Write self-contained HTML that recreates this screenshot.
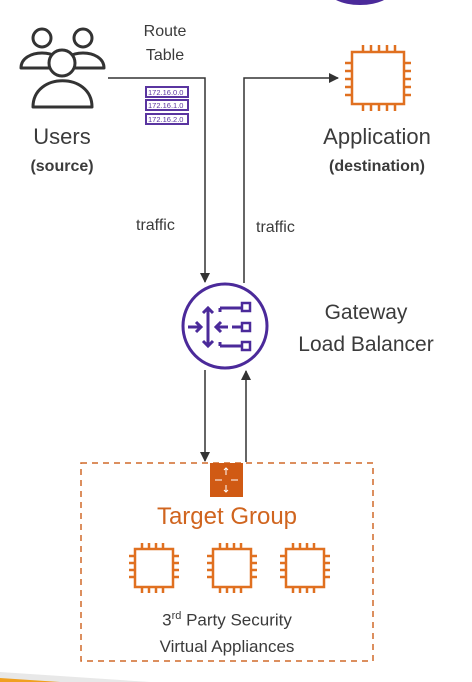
<!DOCTYPE html>
<html><head><style>
body{margin:0;width:472px;height:682px;background:#fff;overflow:hidden;position:relative;font-family:"Liberation Sans",sans-serif;color:#3b3b3b}
.t{position:absolute;white-space:nowrap;text-align:center}
</style></head><body>
<svg width="472" height="682" style="position:absolute;left:0;top:0">
<defs><marker id="a" markerWidth="10" markerHeight="10" refX="9" refY="5" orient="auto" markerUnits="userSpaceOnUse"><path d="M0,0 L10,5 L0,10 z" fill="#333"/></marker></defs>
<ellipse cx="360" cy="-12" rx="34" ry="17" fill="#4b2a9a"/>
<!-- users -->
<g fill="#fff" stroke="#333" stroke-width="3" stroke-linejoin="round">
<circle cx="42" cy="38" r="9"/><path d="M21,68 C21,48 63,48 63,68 Z"/>
<circle cx="83" cy="38" r="9"/><path d="M62,68 C62,48 104,48 104,68 Z"/>
<circle cx="62" cy="63" r="13"/><path d="M33,107 C33,72 92,72 92,107 Z"/>
</g>
<!-- route table -->
<g fill="#fff" stroke="#5a35a0" stroke-width="2">
<rect x="146" y="87" width="42" height="10"/><rect x="146" y="100" width="42" height="10"/><rect x="146" y="114" width="42" height="10"/>
</g>
<g font-size="7.5" fill="#5a35a0" font-family="Liberation Sans">
<text x="148" y="95">172.16.0.0</text><text x="148" y="108">172.16.1.0</text><text x="148" y="122">172.16.2.0</text>
</g>
<!-- connectors -->
<g stroke="#333" stroke-width="1.5" fill="none">
<path d="M108,78 H205 V282" marker-end="url(#a)"/>
<path d="M244,283 V78 H338" marker-end="url(#a)"/>
<path d="M205,370 V461" marker-end="url(#a)"/>
<path d="M246,462 V371" marker-end="url(#a)"/>
</g>
<!-- app chip -->
<g stroke="#e07020" stroke-width="2.5" fill="none">
<rect x="352" y="52" width="52" height="52"/>
<path d="M363,45v7M371,45v7M379,45v7M387,45v7M395,45v7M363,104v7M371,104v7M379,104v7M387,104v7M395,104v7M345,63h7M345,71h7M345,79h7M345,87h7M345,95h7M404,63h7M404,71h7M404,79h7M404,87h7M404,95h7"/>
</g>
<!-- GWLB -->
<circle cx="225" cy="326" r="42" fill="#fff" stroke="#4b2a9a" stroke-width="3"/>
<g stroke="#4b2a9a" stroke-width="3" fill="none">
<path d="M188,327h12M196,322l5,5-5,5"/>
<path d="M208,308v38M203,313l5,-5 5,5M203,341l5,5 5,-5"/>
<path d="M216,327h12M221,322l-5,5 5,5M232,327h10"/>
<path d="M220,308h22M220,308v4M220,346h22M220,346v-4"/>
<rect x="242" y="303" width="8" height="8" stroke-width="2.5"/><rect x="242" y="323" width="8" height="8" stroke-width="2.5"/><rect x="242" y="342" width="8" height="8" stroke-width="2.5"/>
</g>
<!-- target group -->
<rect x="81" y="463" width="292" height="198" fill="none" stroke="#d06a2a" stroke-width="1.5" stroke-dasharray="6,5"/>
<rect x="210" y="463" width="33" height="34" fill="#d05a14"/>
<g stroke="#fff" stroke-width="1" fill="none"><path d="M226,468v7M226,485v7M215,480h7M231,480h7M224,470l2,-2 2,2M224,490l2,2 2,-2"/></g>
<g stroke="#e07020" stroke-width="2.5" fill="none">
<rect x="135" y="549" width="38" height="38"/><rect x="213" y="549" width="38" height="38"/><rect x="286" y="549" width="38" height="38"/>
<path d="M142,543v6M149,543v6M156,543v6M163,543v6M142,587v6M149,587v6M156,587v6M163,587v6M129,556h6M129,563h6M129,570h6M129,577h6M173,556h6M173,563h6M173,570h6M173,577h6"/>
<path d="M220,543v6M227,543v6M234,543v6M241,543v6M220,587v6M227,587v6M234,587v6M241,587v6M207,556h6M207,563h6M207,570h6M207,577h6M251,556h6M251,563h6M251,570h6M251,577h6"/>
<path d="M293,543v6M300,543v6M307,543v6M314,543v6M293,587v6M300,587v6M307,587v6M314,587v6M280,556h6M280,563h6M280,570h6M280,577h6M324,556h6M324,563h6M324,570h6M324,577h6"/>
</g>
<path d="M0,672 L150,682 L0,682Z" fill="#e8e8e8"/>
<path d="M0,678 L60,682 L0,682Z" fill="#f0a020"/>
</svg>
<div class="t" style="left:125px;top:20px;width:80px;font-size:16px;line-height:24px">Route<br>Table</div>
<div class="t" style="left:12px;top:124px;width:100px;font-size:22px">Users</div>
<div class="t" style="left:12px;top:158px;width:100px;font-size:16px;font-weight:bold">(source)</div>
<div class="t" style="left:297px;top:124px;width:160px;font-size:22px">Application</div>
<div class="t" style="left:297px;top:158px;width:160px;font-size:16px;font-weight:bold">(destination)</div>
<div class="t" style="left:136px;top:217px;font-size:16px">traffic</div>
<div class="t" style="left:256px;top:219px;font-size:16px">traffic</div>
<div class="t" style="left:276px;top:297px;width:180px;font-size:21px;line-height:32px">Gateway<br>Load Balancer</div>
<div class="t" style="left:81px;top:503px;width:292px;font-size:24px;color:#d0651f">Target Group</div>
<div class="t" style="left:81px;top:603px;width:292px;font-size:17px;line-height:26px">3<sup style="font-size:11px">rd</sup> Party Security<br>Virtual Appliances</div>
</body></html>
